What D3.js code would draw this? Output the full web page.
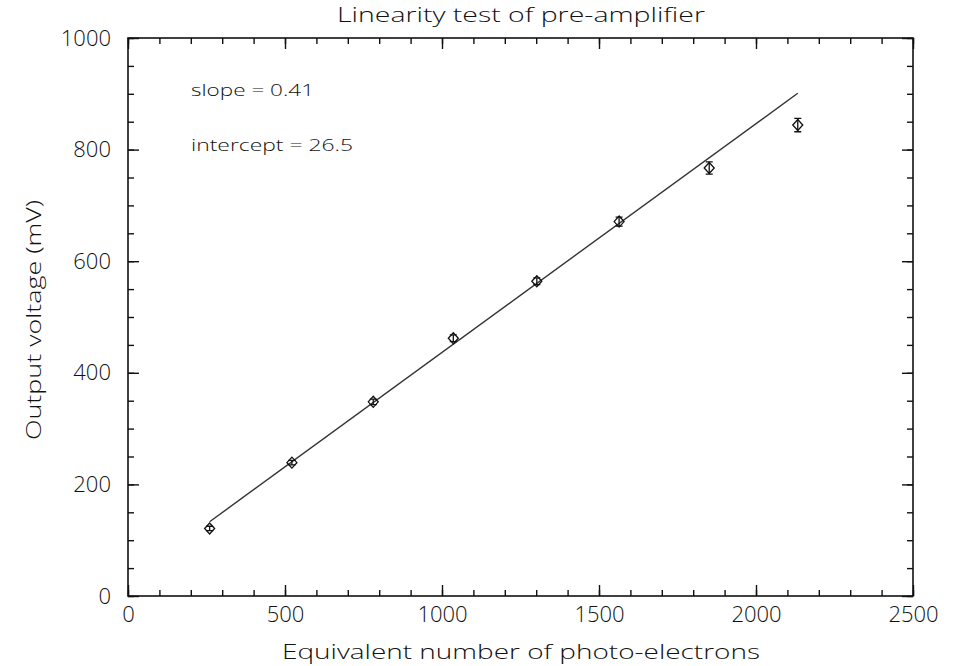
<!DOCTYPE html>
<html>
<head>
<meta charset="utf-8">
<script src="https://cdn.jsdelivr.net/npm/d3@7"></script>
<style>
  html, body { margin: 0; padding: 0; background: #fff; }
  svg { display: block; }
  text { font-family: "Open Sans", "DejaVu Sans", sans-serif; font-weight: 300; fill: #111; }
</style>
</head>
<body>
<svg id="chart" width="961" height="666"></svg>
<script>
// Measured points: photo-electron count vs. pre-amplifier output (mV)
const photoElectrons = [260, 522, 781, 1036, 1302, 1564, 1851, 2133];
const outputMv       = [121, 239, 348, 462, 564, 671, 767, 844];
const outputErrMv    = [4, 4, 5, 6, 6, 8, 11, 12];

// Linear fit parameters
const fitSlope = 0.41;
const fitIntercept = 26.5;

// Axis ticks
const xMajorTicks = [0, 500, 1000, 1500, 2000, 2500];
const xMinorTicks = d3.range(0, 2501, 100);
const yMajorTicks = [0, 200, 400, 600, 800, 1000];
const yMinorTicks = d3.range(0, 1001, 50);

const titleText = "Linearity test of pre-amplifier";
const xTitle = "Equivalent number of photo-electrons";
const yTitle = "Output voltage (mV)";

const svg = d3.select("#chart");
const plot = { left: 128, right: 913, top: 38, bottom: 596 };

const x = d3.scaleLinear().domain([0, 2500]).range([plot.left, plot.right]);
const y = d3.scaleLinear().domain([0, 1000]).range([plot.bottom, plot.top]);

const ink = "#111";
const fontStack = "'Open Sans', 'DejaVu Sans', sans-serif";

function styleAxis(g, hideLabels) {
  g.select(".domain").remove();
  g.selectAll(".tick line").attr("stroke", ink).attr("stroke-width", 1.4);
  g.selectAll("text").attr("font-size", 22).attr("fill", "#111")
    .attr("font-family", fontStack).attr("font-weight", 300);
  if (hideLabels) g.selectAll("text").remove();
}

// Minor ticks on all four sides (pointing inward)
svg.append("g").attr("transform", `translate(0,${plot.bottom})`)
  .call(d3.axisBottom(x).tickValues(xMinorTicks).tickSize(-6).tickFormat(""))
  .call(g => styleAxis(g, true));
svg.append("g").attr("transform", `translate(0,${plot.top})`)
  .call(d3.axisTop(x).tickValues(xMinorTicks).tickSize(-6).tickFormat(""))
  .call(g => styleAxis(g, true));
svg.append("g").attr("transform", `translate(${plot.left},0)`)
  .call(d3.axisLeft(y).tickValues(yMinorTicks).tickSize(-6).tickFormat(""))
  .call(g => styleAxis(g, true));
svg.append("g").attr("transform", `translate(${plot.right},0)`)
  .call(d3.axisRight(y).tickValues(yMinorTicks).tickSize(-6).tickFormat(""))
  .call(g => styleAxis(g, true));

// Major ticks with labels on bottom and left
svg.append("g").attr("transform", `translate(0,${plot.bottom})`)
  .call(d3.axisBottom(x).tickValues(xMajorTicks).tickSize(-11).tickPadding(10).tickFormat(d3.format("d")))
  .call(g => styleAxis(g, false));
svg.append("g").attr("transform", `translate(0,${plot.top})`)
  .call(d3.axisTop(x).tickValues(xMajorTicks).tickSize(-11).tickFormat(""))
  .call(g => styleAxis(g, true));
svg.append("g").attr("transform", `translate(${plot.left},0)`)
  .call(d3.axisLeft(y).tickValues(yMajorTicks).tickSize(-11).tickPadding(17).tickFormat(d3.format("d")))
  .call(g => styleAxis(g, false));
svg.append("g").attr("transform", `translate(${plot.right},0)`)
  .call(d3.axisRight(y).tickValues(yMajorTicks).tickSize(-11).tickFormat(""))
  .call(g => styleAxis(g, true));

// Plot frame
svg.append("rect")
  .attr("x", plot.left).attr("y", plot.top)
  .attr("width", plot.right - plot.left).attr("height", plot.bottom - plot.top)
  .attr("fill", "none").attr("stroke", ink).attr("stroke-width", 1.6);

// Fit line across the measured range
const xFit = d3.extent(photoElectrons);
svg.append("line")
  .attr("x1", x(xFit[0])).attr("y1", y(fitSlope * xFit[0] + fitIntercept))
  .attr("x2", x(xFit[1])).attr("y2", y(fitSlope * xFit[1] + fitIntercept))
  .attr("stroke", "#333").attr("stroke-width", 1.4);

// Data points: diamonds with error bars
const pts = photoElectrons.map((d, i) => ({ x: d, y: outputMv[i], e: outputErrMv[i] }));
const pg = svg.append("g").attr("fill", "none").attr("stroke", ink).attr("stroke-width", 1.3);
const dw = 5, dh = 5.5, cap = 3.5;
pts.forEach(p => {
  const cx = x(p.x), cy = y(p.y);
  pg.append("path")
    .attr("d", `M${cx - dw},${cy}L${cx},${cy - dh}L${cx + dw},${cy}L${cx},${cy + dh}Z`);
  const y0 = y(p.y - p.e), y1 = y(p.y + p.e);
  pg.append("path")
    .attr("d", `M${cx},${y0}V${y1}M${cx - cap},${y0}H${cx + cap}M${cx - cap},${y1}H${cx + cap}`);
});

// Fit annotations
svg.append("text").attr("x", 191).attr("y", 96)
  .attr("font-size", 17).attr("textLength", 123).attr("lengthAdjust", "spacingAndGlyphs")
  .text(`slope = ${fitSlope}`);
svg.append("text").attr("x", 191).attr("y", 151)
  .attr("font-size", 17).attr("textLength", 162).attr("lengthAdjust", "spacingAndGlyphs")
  .text(`intercept = ${fitIntercept}`);

// Titles
svg.append("text").attr("x", (plot.left + plot.right) / 2 + 0.5).attr("y", 22)
  .attr("text-anchor", "middle").attr("font-size", 20)
  .attr("textLength", 368).attr("lengthAdjust", "spacingAndGlyphs")
  .text(titleText);
svg.append("text").attr("x", 521).attr("y", 659)
  .attr("text-anchor", "middle").attr("font-size", 20)
  .attr("textLength", 478).attr("lengthAdjust", "spacingAndGlyphs")
  .text(xTitle);
svg.append("text")
  .attr("transform", `translate(41,${(200 + 440) / 2}) rotate(-90)`)
  .attr("text-anchor", "middle").attr("font-size", 20)
  .attr("textLength", 240).attr("lengthAdjust", "spacingAndGlyphs")
  .text(yTitle);
</script>
</body>
</html>
